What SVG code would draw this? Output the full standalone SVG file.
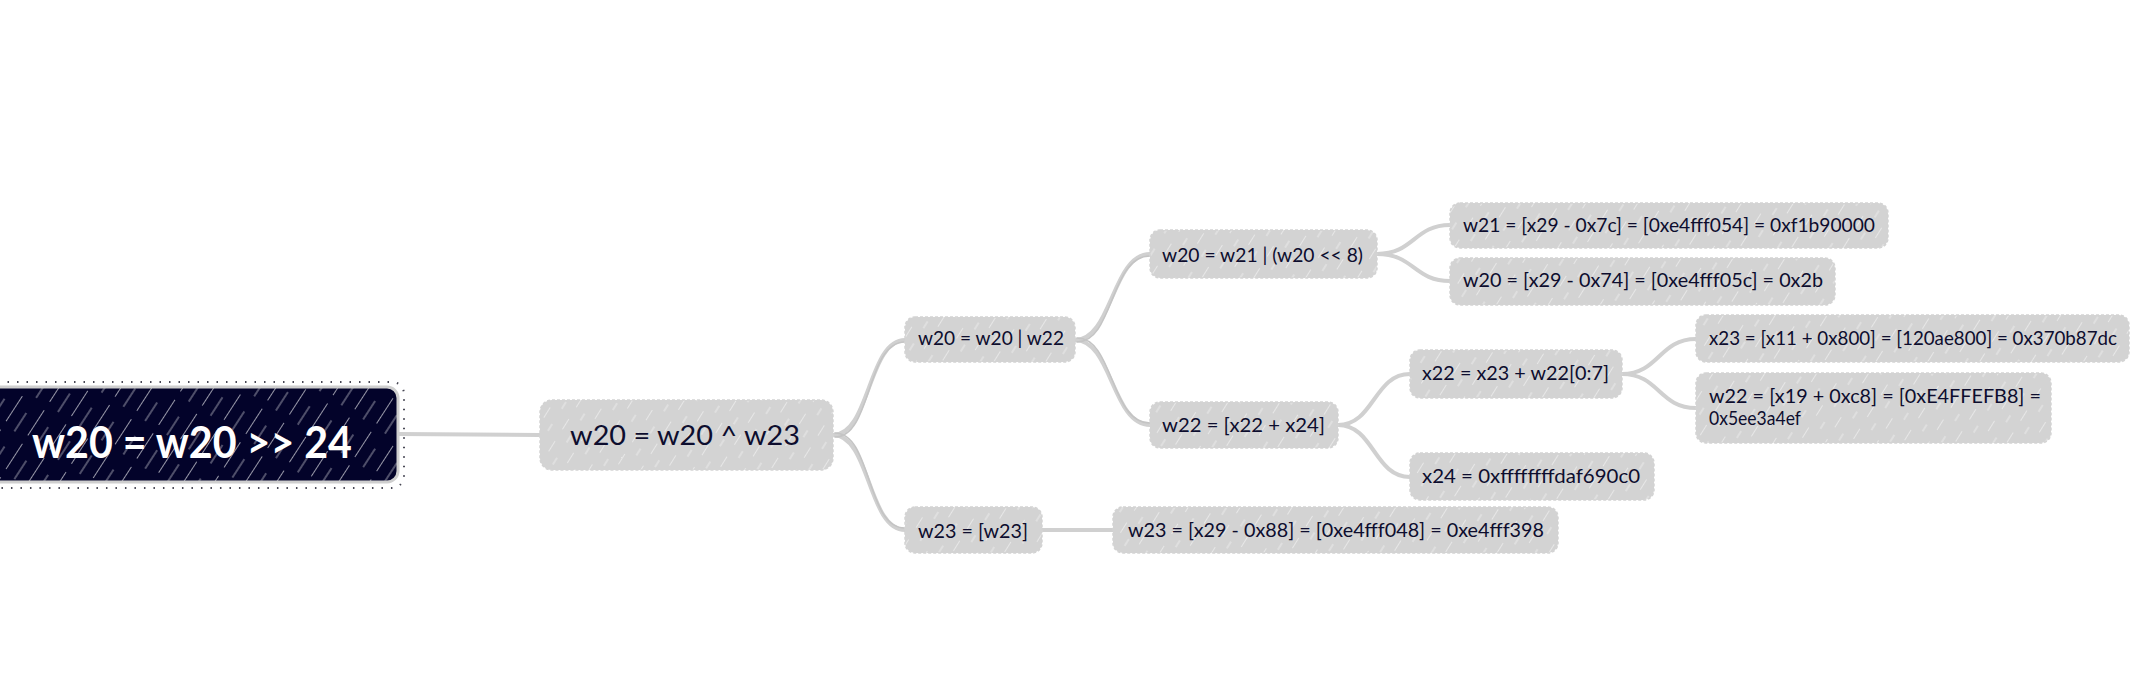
<svg xmlns="http://www.w3.org/2000/svg" width="2134" height="682" viewBox="0 0 2134 682">
<defs>
<pattern id="hatchGrey" patternUnits="userSpaceOnUse" width="22" height="26" patternTransform="rotate(32)">
<rect width="22" height="26" fill="#d3d3d3"/>
<line x1="0" y1="2" x2="0" y2="14" stroke="#ffffff" stroke-width="1.2" stroke-opacity="0.75"/>
<line x1="11" y1="15" x2="11" y2="23" stroke="#ffffff" stroke-width="1" stroke-opacity="0.55"/>
</pattern>
<pattern id="hatchDark" patternUnits="userSpaceOnUse" width="26" height="40" patternTransform="rotate(33)">
<rect width="26" height="40" fill="#03032a"/>
<line x1="0" y1="0" x2="0" y2="30" stroke="#ffffff" stroke-width="1.4" stroke-opacity="0.85"/>
<line x1="13" y1="12" x2="13" y2="34" stroke="#ffffff" stroke-width="1" stroke-opacity="0.6"/>
</pattern>
<style>
.node rect.box{fill:url(#hatchGrey);stroke:#d3d3d3;stroke-width:1.5;stroke-dasharray:3 2}
.node text{font-family:Lato,"Open Sans","Liberation Sans",sans-serif;fill:#0d0d2e;font-size:19px}
.node text.mid{font-size:27px}
.root rect.box{fill:url(#hatchDark);stroke:#cfcfcf;stroke-width:3;stroke-dasharray:none}
.root rect.rough{fill:none;stroke:#1a1a2a;stroke-width:2;stroke-dasharray:1.5 8;stroke-opacity:0.8}
.root text{font-size:43px;font-weight:bold;fill:#ffffff}
#connectors path{fill:none;stroke:#d0d0d0;stroke-width:4;stroke-linecap:round}
#connectors path.thin{stroke-width:1.5;stroke:#c4c4c4}
</style>
</defs>
<rect width="2134" height="682" fill="#ffffff"/>
<g id="connectors">
<path d="M398,434 L540,435"/>
<path d="M833,435 C870,435 868,340 905,340"/>
<path d="M833,435 C870,435 868,530 905,530"/>
<path d="M1075,340 C1112,340 1112,254 1150,254"/>
<path d="M1075,340 C1112,340 1112,425 1150,425"/>
<path d="M1377,254 C1414,254 1414,225 1450,225"/>
<path d="M1377,254 C1414,254 1414,281 1450,281"/>
<path d="M1338,425 C1374,425 1374,374 1410,374"/>
<path d="M1338,425 C1374,425 1374,477 1410,477"/>
<path d="M1622,374 C1659,374 1659,339 1696,339"/>
<path d="M1622,374 C1659,374 1659,408 1696,408"/>
<path d="M1042,530 L1113,530"/>
<path class="thin" d="M835,437 C872,437 866,342 905,342"/>
<path class="thin" d="M835,433 C872,433 866,528 905,528"/>
<path class="thin" d="M1077,342 C1114,342 1110,256 1150,256"/>
<path class="thin" d="M1077,338 C1114,338 1110,423 1150,423"/>
</g>
<g id="root" class="node root">
<rect class="rough" x="-14" y="382" width="418" height="106" rx="12"/>
<rect class="box" x="-12" y="387" width="410" height="95" rx="11"/>
<text x="32" y="458" textLength="320" lengthAdjust="spacingAndGlyphs">w20 = w20 &gt;&gt; 24</text>
</g>
<g id="n1" class="node">
<rect class="box" x="540" y="400" width="293" height="70" rx="12"/>
<text class="mid" x="570" y="445" textLength="230" lengthAdjust="spacingAndGlyphs">w20 = w20 ^ w23</text>
</g>
<g id="n2" class="node">
<rect class="box" x="905" y="317" width="170" height="45" rx="10"/>
<text x="918" y="345" textLength="146" lengthAdjust="spacingAndGlyphs">w20 = w20 | w22</text>
</g>
<g id="n3" class="node">
<rect class="box" x="1150" y="230" width="227" height="48" rx="10"/>
<text x="1162" y="262" textLength="201" lengthAdjust="spacingAndGlyphs">w20 = w21 | (w20 &lt;&lt; 8)</text>
</g>
<g id="n4" class="node">
<rect class="box" x="1150" y="402" width="188" height="46" rx="10"/>
<text x="1162" y="432" textLength="163" lengthAdjust="spacingAndGlyphs">w22 = [x22 + x24]</text>
</g>
<g id="n5" class="node">
<rect class="box" x="905" y="507" width="137" height="46" rx="10"/>
<text x="918" y="538" textLength="110" lengthAdjust="spacingAndGlyphs">w23 = [w23]</text>
</g>
<g id="n6" class="node">
<rect class="box" x="1450" y="203" width="438" height="45" rx="10"/>
<text x="1463" y="232" textLength="412" lengthAdjust="spacingAndGlyphs">w21 = [x29 - 0x7c] = [0xe4fff054] = 0xf1b90000</text>
</g>
<g id="n7" class="node">
<rect class="box" x="1450" y="258" width="385" height="47" rx="10"/>
<text x="1463" y="287" textLength="360" lengthAdjust="spacingAndGlyphs">w20 = [x29 - 0x74] = [0xe4fff05c] = 0x2b</text>
</g>
<g id="n8" class="node">
<rect class="box" x="1410" y="350" width="212" height="48" rx="10"/>
<text x="1422" y="380" textLength="187" lengthAdjust="spacingAndGlyphs">x22 = x23 + w22[0:7]</text>
</g>
<g id="n9" class="node">
<rect class="box" x="1696" y="315" width="433" height="47" rx="10"/>
<text x="1709" y="345" textLength="408" lengthAdjust="spacingAndGlyphs">x23 = [x11 + 0x800] = [120ae800] = 0x370b87dc</text>
</g>
<g id="n10" class="node">
<rect class="box" x="1696" y="373" width="355" height="70" rx="10"/>
<text x="1709" y="403" textLength="332" lengthAdjust="spacingAndGlyphs">w22 = [x19 + 0xc8] = [0xE4FFEFB8] =</text>
<text x="1709" y="425" textLength="92" lengthAdjust="spacingAndGlyphs">0x5ee3a4ef</text>
</g>
<g id="n11" class="node">
<rect class="box" x="1410" y="453" width="244" height="47" rx="10"/>
<text x="1422" y="483" textLength="218" lengthAdjust="spacingAndGlyphs">x24 = 0xffffffffdaf690c0</text>
</g>
<g id="n12" class="node">
<rect class="box" x="1113" y="507" width="445" height="46" rx="10"/>
<text x="1128" y="537" textLength="416" lengthAdjust="spacingAndGlyphs">w23 = [x29 - 0x88] = [0xe4fff048] = 0xe4fff398</text>
</g>
</svg>
